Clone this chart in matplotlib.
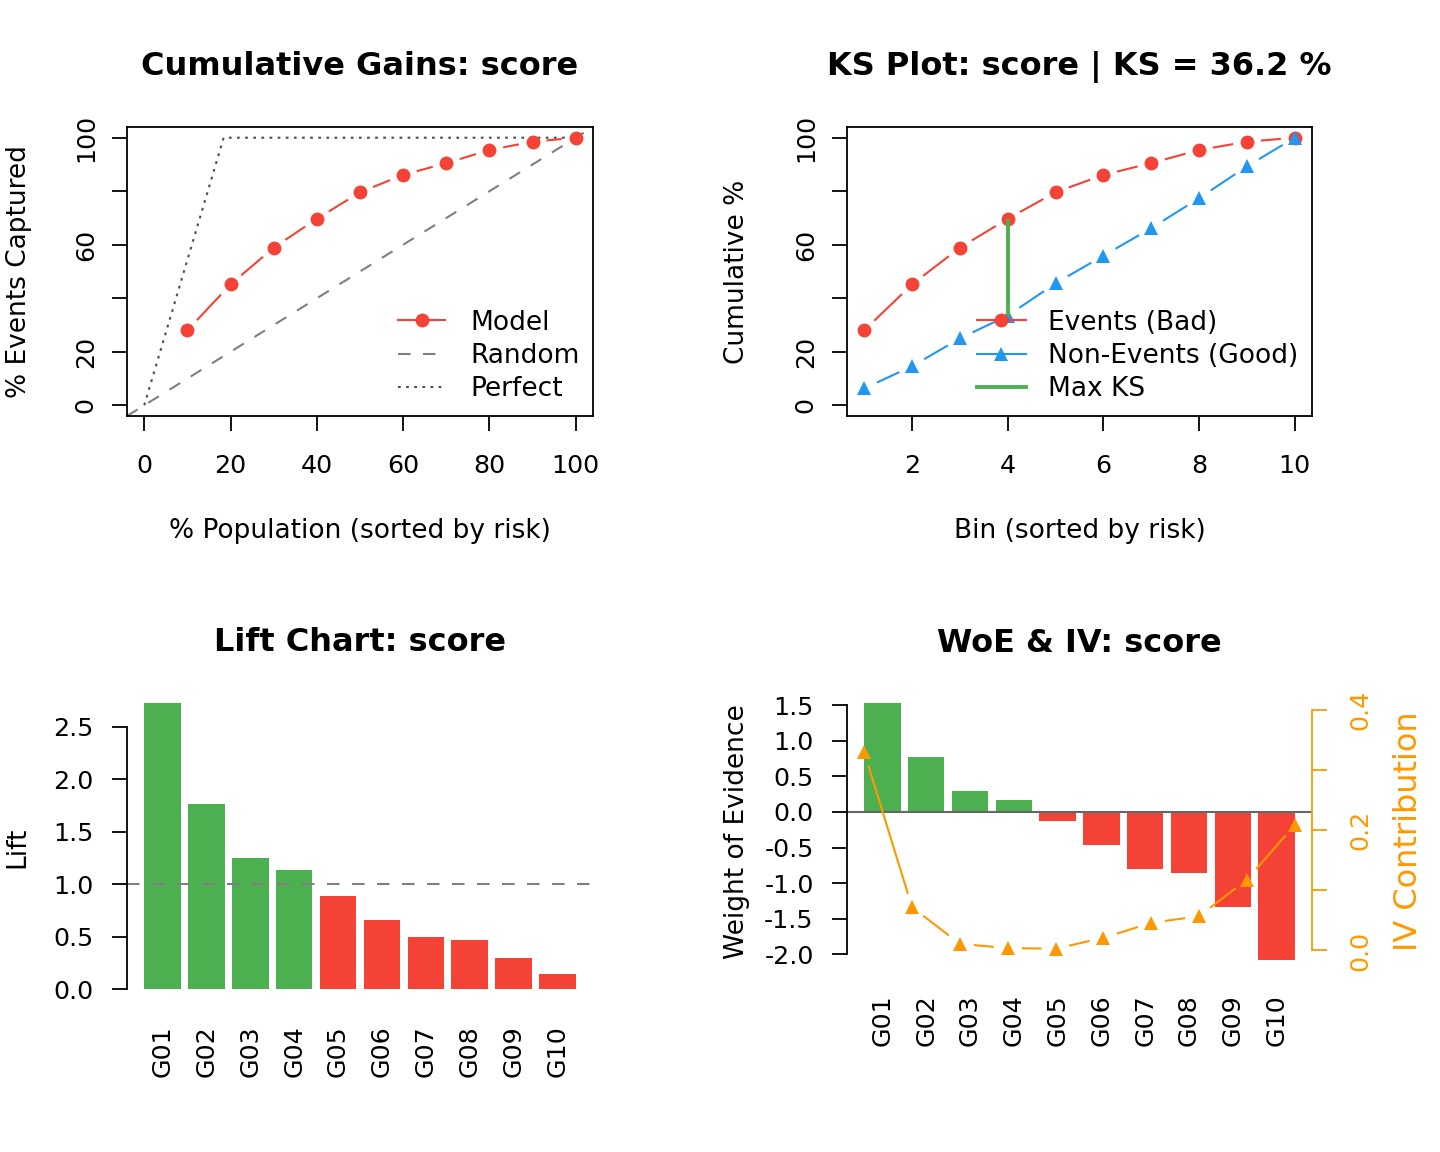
import numpy as np
import matplotlib
matplotlib.use("Agg")
import matplotlib.pyplot as plt
from matplotlib.lines import Line2D

# ---------------- data ----------------
pop_pct = [10, 20, 30, 40, 50, 60, 70, 80, 90, 100]
bins = [1, 2, 3, 4, 5, 6, 7, 8, 9, 10]
events_cum = [28.0, 45.2, 58.9, 69.7, 79.6, 86.1, 90.5, 95.4, 98.5, 100.0]
nonevents_cum = [6.3, 14.6, 25.0, 33.5, 45.6, 55.9, 66.2, 77.4, 89.3, 100.0]
perfect_x = [0, 18.4, 100]
perfect_y = [0, 100, 100]
groups = ["G01", "G02", "G03", "G04", "G05", "G06", "G07", "G08", "G09", "G10"]
lift = [2.727, 1.763, 1.249, 1.135, 0.888, 0.660, 0.497, 0.469, 0.298, 0.145]
woe = [1.53, 0.77, 0.30, 0.168, -0.126, -0.47, -0.80, -0.855, -1.33, -2.08]
iv = [0.330, 0.072, 0.011, 0.004, 0.003, 0.021, 0.046, 0.057, 0.118, 0.209]

pct_ticks = [0, 20, 40, 60, 80, 100]
pct_tick_labels = ["0", "20", "", "60", "", "100"]
bin_ticks = [2, 4, 6, 8, 10]
lift_ticks = [0.0, 0.5, 1.0, 1.5, 2.0, 2.5]
woe_ticks = [-2.0, -1.5, -1.0, -0.5, 0.0, 0.5, 1.0, 1.5]
iv_ticks = [0.0, 0.1, 0.2, 0.3, 0.4]
iv_tick_labels = ["0.0", "", "0.2", "", "0.4"]

RED = "#F44336"
GREEN = "#4CAF50"
BLUE = "#2196F3"
ORANGE = "#FF9800"

TICK_FS = 18.3
LAB_FS = 19
TITLE_FS = 23
LEG_FS = 19

plt.rcParams['font.family'] = ['DejaVu Sans']

W, H = 1440, 1152
fig = plt.figure(figsize=(W / 100, H / 100), dpi=100)


def rect(x0, y0, x1, y1):
    return [x0 / W, 1 - y1 / H, (x1 - x0) / W, (y1 - y0) / H]


def draw_b(ax, xs, ys, color, marker, ms, gap=14.0, lw=1.5):
    pts = ax.transData.transform(np.column_stack([xs, ys]))
    inv = ax.transData.inverted()
    for p, q in zip(pts[:-1], pts[1:]):
        d = q - p
        L = np.hypot(d[0], d[1])
        if L > 2 * gap:
            u = d / L
            a = inv.transform(p + u * gap)
            b = inv.transform(q - u * gap)
            ax.plot([a[0], b[0]], [a[1], b[1]], color=color, lw=lw,
                    solid_capstyle='butt')
    ax.plot(xs, ys, ls='none', marker=marker, ms=ms, color=color, mew=0)


def box_style(ax):
    for s in ax.spines.values():
        s.set_linewidth(1.3)
    ax.tick_params(direction='out', length=11, width=1.3, labelsize=TICK_FS)
    ax.tick_params(axis='x', pad=16.5)
    ax.tick_params(axis='y', pad=10)
    ax.tick_params(top=False, right=False)


# ---------------- Panel 1: Cumulative gains ----------------
ax1 = fig.add_axes(rect(127, 127, 593, 416))
ax1.set_xlim(-4, 104)
ax1.set_ylim(-4, 104)
box_style(ax1)
ax1.axline((0, 0), (100, 100), color='#7f7f7f', lw=1.5, ls=(0, (6, 6)))
ax1.plot(perfect_x, perfect_y, color='#4d4d4d', lw=1.5, ls=(0, (1.3, 2.6)))
draw_b(ax1, pop_pct, events_cum, RED, 'o', 10)
ax1.set_xticks(pct_ticks)
ax1.set_yticks(pct_ticks)
ax1.set_yticklabels(pct_tick_labels, rotation=90, va='center')
ax1.set_title("Cumulative Gains: score", fontsize=TITLE_FS, fontweight='bold',
              y=1.208, va='center', pad=0)
ax1.set_xlabel("% Population (sorted by risk)", fontsize=LAB_FS, va='center')
ax1.xaxis.set_label_coords(0.5, -0.397)
ax1.set_ylabel("% Events Captured", fontsize=LAB_FS, va='center')
ax1.yaxis.set_label_coords(-0.232, 0.5)
h1 = [Line2D([], [], color=RED, lw=1.5, marker='o', ms=10, mew=0),
      Line2D([], [], color='#7f7f7f', lw=1.5, ls=(0, (6, 6))),
      Line2D([], [], color='#4d4d4d', lw=1.5, ls=(0, (1.3, 2.6)))]
ax1.legend(h1, ["Model", "Random", "Perfect"], loc='upper left',
           bbox_to_anchor=(0.5815, 0.368), frameon=False, fontsize=LEG_FS,
           borderpad=0, borderaxespad=0, handlelength=1.8, handletextpad=0.95,
           labelspacing=0.27)

# ---------------- Panel 2: KS ----------------
ax2 = fig.add_axes(rect(847, 127, 1312, 416))
ax2.set_xlim(0.64, 10.36)
ax2.set_ylim(-4, 104)
box_style(ax2)
diffs = [e - n for e, n in zip(events_cum, nonevents_cum)]
k = int(np.argmax(diffs))
ks_val = diffs[k]
draw_b(ax2, bins, events_cum, RED, 'o', 10)
draw_b(ax2, bins, nonevents_cum, BLUE, '^', 9.5)
ax2.plot([bins[k], bins[k]], [nonevents_cum[k], events_cum[k]], color=GREEN,
         lw=2.8, solid_capstyle='butt')
ax2.set_xticks(bin_ticks)
ax2.set_yticks(pct_ticks)
ax2.set_yticklabels(pct_tick_labels, rotation=90, va='center')
ax2.set_title(f"KS Plot: score | KS = {ks_val:.1f} %", fontsize=TITLE_FS,
              fontweight='bold', y=1.208, va='center', pad=0)
ax2.set_xlabel("Bin (sorted by risk)", fontsize=LAB_FS, va='center')
ax2.xaxis.set_label_coords(0.5, -0.397)
ax2.set_ylabel("Cumulative %", fontsize=LAB_FS, va='center')
ax2.yaxis.set_label_coords(-0.2366, 0.5)
h2 = [Line2D([], [], color=RED, lw=1.5, marker='o', ms=10, mew=0),
      Line2D([], [], color=BLUE, lw=1.5, marker='^', ms=9.5, mew=0),
      Line2D([], [], color=GREEN, lw=2.8)]
ax2.legend(h2, ["Events (Bad)", "Non-Events (Good)", "Max KS"], loc='upper left',
           bbox_to_anchor=(0.2796, 0.368), frameon=False, fontsize=LEG_FS,
           borderpad=0, borderaxespad=0, handlelength=1.85, handletextpad=0.85,
           labelspacing=0.27)

# ---------------- Panel 3: Lift ----------------
bar_pos = [0.7 + 1.2 * i for i in range(len(groups))]
ax3 = fig.add_axes(rect(127, 703, 593, 992))
ax3.set_xlim(-0.272, 12.472)
ax3.set_ylim(-0.01 * max(lift), max(lift))
lift_cols = [GREEN if v >= 1 else RED for v in lift]
ax3.bar(bar_pos, lift, width=1.0, color=lift_cols, linewidth=0)
ax3.axhline(1.0, color='#7f7f7f', lw=1.5, ls=(0, (6, 6)))
for s in ['top', 'right', 'bottom']:
    ax3.spines[s].set_visible(False)
ax3.spines['left'].set_bounds(lift_ticks[0], lift_ticks[-1])
ax3.spines['left'].set_linewidth(1.3)
ax3.set_yticks(lift_ticks)
ax3.set_yticklabels([f"{v:.1f}" for v in lift_ticks])
ax3.tick_params(axis='y', direction='out', length=11, width=1.3,
                labelsize=TICK_FS, pad=13)
ax3.set_xticks(bar_pos)
ax3.set_xticklabels(groups, rotation=90)
ax3.tick_params(axis='x', length=0, labelsize=TICK_FS, pad=24)
ax3.set_title("Lift Chart: score", fontsize=TITLE_FS, fontweight='bold',
              y=1.208, va='center', pad=0)
ax3.set_ylabel("Lift", fontsize=LAB_FS, va='center')
ax3.yaxis.set_label_coords(-0.236, 0.5)

# ---------------- Panel 4: WoE & IV ----------------
ax4 = fig.add_axes(rect(847, 703, 1312, 960))
ax4.set_xlim(-0.272, 12.472)
ax4.set_ylim(min(woe), max(woe))
woe_cols = [GREEN if v > 0 else RED for v in woe]
ax4.bar(bar_pos, woe, width=1.0, color=woe_cols, linewidth=0)
ax4.axhline(0.0, color='#666666', lw=1.5)
for s in ['top', 'right', 'bottom']:
    ax4.spines[s].set_visible(False)
ax4.spines['left'].set_bounds(woe_ticks[0], woe_ticks[-1])
ax4.spines['left'].set_linewidth(1.3)
ax4.set_yticks(woe_ticks)
ax4.set_yticklabels([f"{v:.1f}" for v in woe_ticks])
ax4.tick_params(axis='y', direction='out', length=11, width=1.3,
                labelsize=TICK_FS, pad=13)
ax4.set_xticks(bar_pos)
ax4.set_xticklabels(groups, rotation=90)
ax4.tick_params(axis='x', length=0, labelsize=TICK_FS, pad=25)
ax4.set_title("WoE & IV: score", fontsize=TITLE_FS, fontweight='bold',
              y=1.233, va='center', pad=0)
ax4.set_ylabel("Weight of Evidence", fontsize=LAB_FS, va='center')
ax4.yaxis.set_label_coords(-0.237, 0.5)

ax5 = fig.add_axes(rect(847, 703, 1312, 960))
ax5.patch.set_visible(False)
for s in ['top', 'left', 'bottom']:
    ax5.spines[s].set_visible(False)
ax5.set_xlim(0.64, 10.36)
iv_top = max(iv) * 1.2
ax5.set_ylim(-0.04 * iv_top, 1.04 * iv_top)
draw_b(ax5, bins, iv, ORANGE, '^', 10)
ax5.xaxis.set_visible(False)
ax5.yaxis.tick_right()
ax5.yaxis.set_label_position('right')
ax5.spines['right'].set_bounds(iv_ticks[0], iv_ticks[-1])
ax5.spines['right'].set_color(ORANGE)
ax5.spines['right'].set_linewidth(1.3)
ax5.set_yticks(iv_ticks)
ax5.set_yticklabels(iv_tick_labels, rotation=90, va='center')
ax5.tick_params(axis='y', direction='out', length=11, width=1.3,
                labelsize=TICK_FS, pad=15, colors=ORANGE)
ax5.set_ylabel("IV Contribution", fontsize=23, color=ORANGE, va='center',
               rotation=90)
ax5.yaxis.set_label_coords(1.207, 0.5)

fig.savefig("out.png", dpi=100, facecolor='white')
